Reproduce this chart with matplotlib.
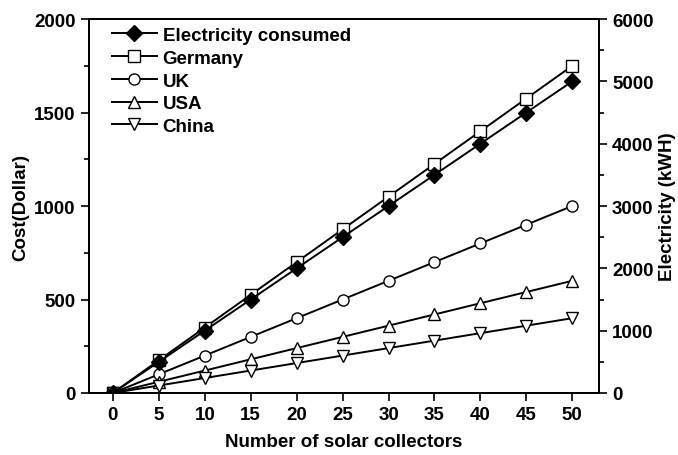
import numpy as np
from matplotlib import pyplot as plt

plt.rcParams['font.family'] = ['Liberation Sans', 'DejaVu Sans']
plt.rcParams['font.weight'] = 'bold'

collectors = [0, 5, 10, 15, 20, 25, 30, 35, 40, 45, 50]
electricity = [0, 500, 1000, 1500, 2000, 2500, 3000, 3500, 4000, 4500, 5000]
germany = [0, 175, 350, 525, 700, 875, 1050, 1225, 1400, 1575, 1750]
uk = [0, 100, 200, 300, 400, 500, 600, 700, 800, 900, 1000]
usa = [0, 60, 120, 180, 240, 300, 360, 420, 480, 540, 600]
china = [0, 40, 80, 120, 160, 200, 240, 280, 320, 360, 400]

fig = plt.figure(figsize=(6.78, 4.56), dpi=100)
ax = fig.add_axes([0.1313, 0.136, 0.752, 0.82])
ax2 = ax.twinx()

style = dict(color='black', lw=1.4, ms=8, mec='black', mew=1.0)
l1, = ax2.plot(collectors, electricity, marker='D', mfc='black', ms=8,
               color='black', lw=1.4, mec='black', label='Electricity consumed')
l2, = ax.plot(collectors, germany, marker='s', mfc='white', label='Germany', **style)
l3, = ax.plot(collectors, uk, marker='o', mfc='white', label='UK', **style)
l4, = ax.plot(collectors, usa, marker='^', mfc='white', label='USA', **style)
l5, = ax.plot(collectors, china, marker='v', mfc='white', label='China', **style)

ax.set_xlim(-2.6, 52.9)
ax.set_ylim(0, 2000)
ax2.set_ylim(0, 6000)
ax.set_xticks(collectors)
ax.set_yticks([0, 500, 1000, 1500, 2000])
ax.set_yticks([250, 750, 1250, 1750], minor=True)
ax2.set_yticks([0, 1000, 2000, 3000, 4000, 5000, 6000])
ax2.set_yticks([500, 1500, 2500, 3500, 4500, 5500], minor=True)

for a in (ax, ax2):
    a.tick_params(axis='y', which='major', direction='out', length=6, width=1.2,
                  labelsize=13.5)
    a.tick_params(axis='y', which='minor', direction='out', length=3.5, width=1.2)
    for s in a.spines.values():
        s.set_linewidth(1.4)
# bottom ticks outward, top ticks short and inward
ax.tick_params(axis='x', which='major', bottom=True, top=False, direction='out',
               length=6, width=1.2, labelsize=13.5)
ax2.tick_params(axis='x', which='major', top=True, bottom=False, direction='in',
                length=3.5, width=1.2, labeltop=False)
ax2.set_xticks(collectors)

ax.set_xlabel('Number of solar collectors', fontsize=13.5, fontweight='bold', labelpad=7)
ax.set_ylabel('Cost(Dollar)', fontsize=13.5, fontweight='bold', labelpad=4)
ax2.set_ylabel('Electricity (kWH)', fontsize=13.5, fontweight='bold', labelpad=4)

ax.legend(handles=[l1, l2, l3, l4, l5], loc='upper left', frameon=False,
          handlelength=2.4, handletextpad=0.3, labelspacing=0.3,
          borderpad=0, borderaxespad=0, bbox_to_anchor=(0.045, 0.979),
          prop={'weight': 'bold', 'size': 13.5})

fig.savefig('out.png', dpi=100)
